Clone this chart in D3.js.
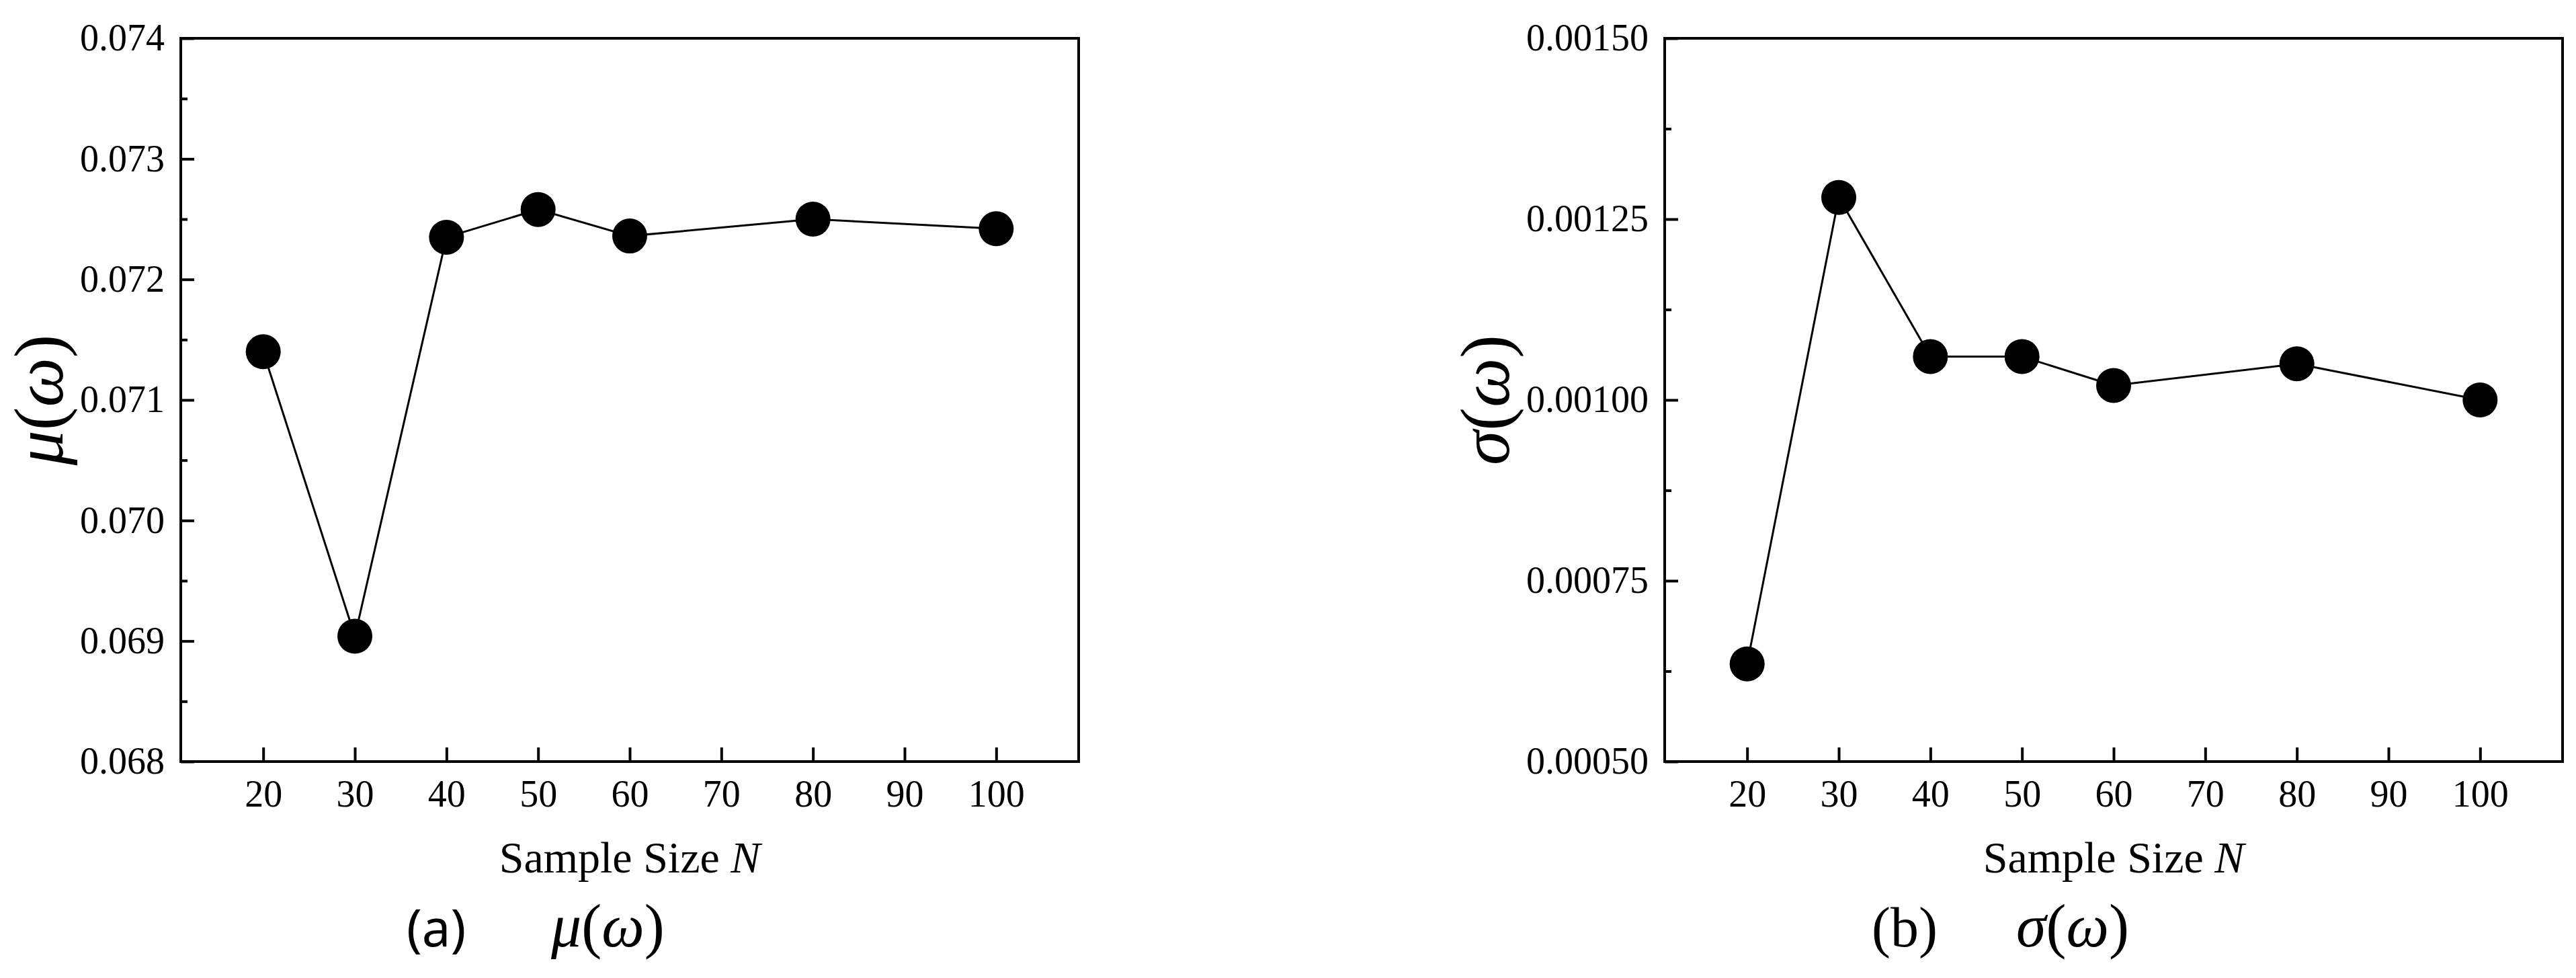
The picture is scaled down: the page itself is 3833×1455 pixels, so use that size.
<!DOCTYPE html>
<html>
<head>
<meta charset="utf-8">
<script src="https://cdn.jsdelivr.net/npm/d3@7"></script>
<style>
  body { margin: 0; background: #fff; }
  svg { display: block; }
  .tick text { font-family: "Liberation Serif", "Times New Roman", serif; }
</style>
</head>
<body>
<script>
var sampleSizes = [20, 30, 40, 50, 60, 80, 100];
var muValues = [0.07140, 0.06904, 0.07235, 0.07258, 0.07236, 0.07250, 0.07242];
var sigmaValues = [0.000635, 0.00128, 0.00106, 0.00106, 0.00102, 0.00105, 0.00100];

var xTicks = [20, 30, 40, 50, 60, 70, 80, 90, 100];
var muTicks = [0.068, 0.069, 0.070, 0.071, 0.072, 0.073, 0.074];
var muMinor = [0.0685, 0.0695, 0.0705, 0.0715, 0.0725, 0.0735];
var sigmaTicks = [0.0005, 0.00075, 0.00100, 0.00125, 0.00150];
var sigmaMinor = [0.000625, 0.000875, 0.001125, 0.001375];

var W = 3833, H = 1455;
var svg = d3.select('body').append('svg')
    .attr('width', W)
    .attr('height', H);

var serif = '"Liberation Serif", "Times New Roman", serif';

function drawPanel(p) {
    var left = p.left, right = p.left + 1336, top = 57, bottom = 1133;

    var x = d3.scaleLinear().domain([11, 109]).range([left, right]);
    var y = d3.scaleLinear().domain(p.yDomain).range([bottom, top]);

    var g = svg.append('g');

    // y axis, ticks point inward
    g.append('g')
        .attr('transform', 'translate(' + left + ',0)')
        .call(d3.axisLeft(y).tickValues(p.yTicks).tickSize(-20).tickPadding(24)
            .tickFormat(d3.format(p.yFormat)))
        .call(function (a) { a.select('.domain').remove(); })
        .call(function (a) {
            a.selectAll('line').attr('stroke', '#000').attr('stroke-width', 4);
            a.selectAll('text').attr('fill', '#000').style('font-size', '56px');
        });

    g.append('g')
        .attr('transform', 'translate(' + left + ',0)')
        .call(d3.axisLeft(y).tickValues(p.yMinor).tickSize(-10).tickFormat(''))
        .call(function (a) { a.select('.domain').remove(); })
        .selectAll('line').attr('stroke', '#000').attr('stroke-width', 4);

    // x axis
    g.append('g')
        .attr('transform', 'translate(0,' + bottom + ')')
        .call(d3.axisBottom(x).tickValues(xTicks).tickSize(-21).tickPadding(27))
        .call(function (a) { a.select('.domain').remove(); })
        .call(function (a) {
            a.selectAll('line').attr('stroke', '#000').attr('stroke-width', 4);
            a.selectAll('text').attr('fill', '#000').style('font-size', '56px');
        });

    // frame
    g.append('rect')
        .attr('x', left)
        .attr('y', top)
        .attr('width', right - left)
        .attr('height', bottom - top)
        .attr('fill', 'none')
        .attr('stroke', '#000')
        .attr('stroke-width', 4);

    var line = d3.line()
        .x(function (d, i) { return x(sampleSizes[i]); })
        .y(function (d) { return y(d); });

    g.append('path')
        .datum(p.values)
        .attr('d', line)
        .attr('fill', 'none')
        .attr('stroke', '#000')
        .attr('stroke-width', 3);

    g.selectAll('.dot')
        .data(p.values)
        .enter().append('circle')
        .attr('class', 'dot')
        .attr('cx', function (d, i) { return x(sampleSizes[i]); })
        .attr('cy', function (d) { return y(d); })
        .attr('r', 26)
        .attr('fill', '#000');

    // x axis title
    var xt = g.append('text')
        .attr('x', (left + right) / 2)
        .attr('y', 1298)
        .attr('text-anchor', 'middle')
        .attr('fill', '#000')
        .style('font-family', serif)
        .style('font-size', '66px');
    xt.append('tspan').text('Sample Size ');
    xt.append('tspan').style('font-style', 'italic').text('N');

    // y axis title
    var yt = g.append('text')
        .attr('transform', 'translate(' + (left - p.yTitleOffset) + ',' + ((top + bottom) / 2) + ') rotate(-90)')
        .attr('text-anchor', 'middle')
        .attr('fill', '#000')
        .style('font-family', serif)
        .style('font-size', '104px');
    yt.append('tspan').style('font-style', 'italic').text(p.sym);
    yt.append('tspan').text('(');
    yt.append('tspan').style('font-style', 'italic').text('ω');
    yt.append('tspan').text(')');

    // caption
    g.append('text')
        .attr('x', p.capX)
        .attr('y', 1408)
        .attr('fill', '#000')
        .style('font-family', p.capFont)
        .style('font-size', p.capSize + 'px')
        .text(p.cap);

    var ct = g.append('text')
        .attr('x', p.capX + 215)
        .attr('y', 1408)
        .attr('fill', '#000')
        .style('font-family', serif)
        .style('font-size', '90px');
    ct.append('tspan').style('font-style', 'italic').text(p.sym);
    ct.append('tspan').text('(');
    ct.append('tspan').style('font-style', 'italic').text('ω');
    ct.append('tspan').text(')');
}

drawPanel({
    left: 269,
    values: muValues,
    yDomain: [0.068, 0.074],
    yTicks: muTicks,
    yMinor: muMinor,
    yFormat: '.3f',
    yTitleOffset: 176,
    sym: 'μ',
    cap: '(a)',
    capX: 605,
    capFont: '"Noto Sans", "Open Sans", sans-serif',
    capSize: 76
});

drawPanel({
    left: 2477,
    values: sigmaValues,
    yDomain: [0.0005, 0.0015],
    yTicks: sigmaTicks,
    yMinor: sigmaMinor,
    yFormat: '.5f',
    yTitleOffset: 232,
    sym: 'σ',
    cap: '(b)',
    capX: 2785,
    capFont: serif,
    capSize: 84
});
</script>
</body>
</html>
